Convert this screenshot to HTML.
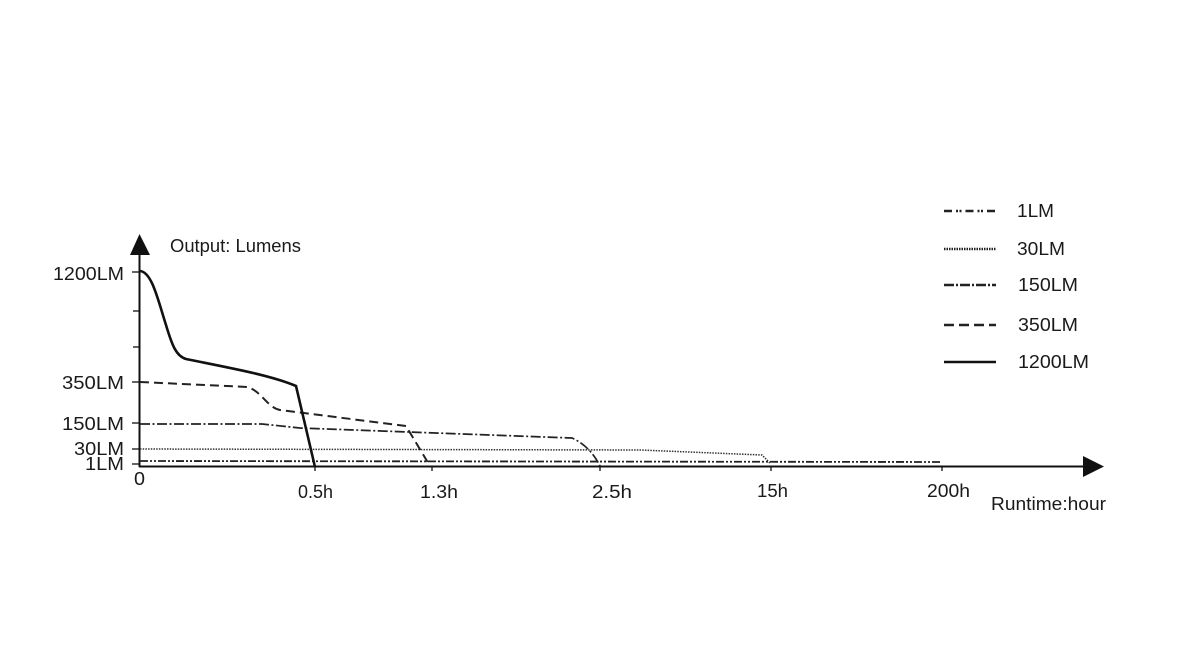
<!DOCTYPE html>
<html><head><meta charset="utf-8"><style>
html,body{margin:0;padding:0;background:#fff;}
svg{display:block;}
text{font-family:"Liberation Sans",Arial,sans-serif;fill:#1a1a1a;font-size:18px;}
</style></head><body>
<svg width="1180" height="660" viewBox="0 0 1180 660" xmlns="http://www.w3.org/2000/svg">
<rect width="1180" height="660" fill="#fff"/>
<!-- axes -->
<line x1="139.5" y1="250" x2="139.5" y2="467" stroke="#111" stroke-width="2"/>
<polygon points="139.5,234 130,255 150,255" fill="#111"/>
<line x1="139" y1="466.5" x2="1088" y2="466.5" stroke="#111" stroke-width="2"/>
<polygon points="1104,466.5 1083,456 1083,477" fill="#111"/>
<!-- y ticks -->
<g stroke="#111" stroke-width="1.3">
<line x1="132" y1="272" x2="140" y2="272"/>
<line x1="133" y1="311" x2="140" y2="311"/>
<line x1="133" y1="347" x2="140" y2="347"/>
<line x1="132" y1="382" x2="140" y2="382"/>
<line x1="132" y1="423" x2="140" y2="423"/>
<line x1="132" y1="449" x2="140" y2="449"/>
<line x1="132" y1="464" x2="140" y2="464"/>
<line x1="315" y1="466" x2="315" y2="471"/>
<line x1="432" y1="466" x2="432" y2="471"/>
<line x1="600" y1="466" x2="600" y2="471"/>
<line x1="771" y1="466" x2="771" y2="471"/>
<line x1="942" y1="466" x2="942" y2="471"/>
</g>
<!-- y labels -->
<text x="53" y="280" textLength="71" lengthAdjust="spacingAndGlyphs">1200LM</text>
<text x="62" y="389" textLength="62" lengthAdjust="spacingAndGlyphs">350LM</text>
<text x="62" y="430" textLength="62" lengthAdjust="spacingAndGlyphs">150LM</text>
<text x="74" y="455" textLength="50" lengthAdjust="spacingAndGlyphs">30LM</text>
<text x="85" y="470" textLength="39" lengthAdjust="spacingAndGlyphs">1LM</text>
<text x="170" y="252" textLength="131" lengthAdjust="spacingAndGlyphs">Output: Lumens</text>
<!-- x labels -->
<text x="134" y="485" textLength="11" lengthAdjust="spacingAndGlyphs">0</text>
<text x="298" y="498" textLength="35" lengthAdjust="spacingAndGlyphs">0.5h</text>
<text x="420" y="498" textLength="38" lengthAdjust="spacingAndGlyphs">1.3h</text>
<text x="592" y="498" textLength="40" lengthAdjust="spacingAndGlyphs">2.5h</text>
<text x="757" y="497" textLength="31" lengthAdjust="spacingAndGlyphs">15h</text>
<text x="927" y="497" textLength="43" lengthAdjust="spacingAndGlyphs">200h</text>
<text x="991" y="510" textLength="115" lengthAdjust="spacingAndGlyphs">Runtime:hour</text>
<!-- series -->
<path d="M140,461 L942,462" fill="none" stroke="#222" stroke-width="1.8" stroke-dasharray="8,2,2,2,2,2"/>
<path d="M140,449 L640,450 L762,455 L770,463" fill="none" stroke="#333" stroke-width="1.5" stroke-dasharray="1.5,1.2"/>
<path d="M140,424 L262,424 L300,428 L572,438 Q590,446 600,466" fill="none" stroke="#222" stroke-width="1.7" stroke-dasharray="10,2.5,2,2.5"/>
<path d="M140,382 L248,387 C262,392 268,408 280,410 L406,426 L430,466" fill="none" stroke="#222" stroke-width="2" stroke-dasharray="9,5"/>
<path d="M140,271 C152,272 158,300 166,325 C172,345 176,356 186,359 C230,368 270,375 296,386 L315,467" fill="none" stroke="#111" stroke-width="2.6"/>
<!-- legend -->
<line x1="944" y1="211" x2="996" y2="211" stroke="#222" stroke-width="2.5" stroke-dasharray="8,4,2,1.5,2,4"/>
<line x1="944" y1="249" x2="996" y2="249" stroke="#222" stroke-width="2.5" stroke-dasharray="1.5,1"/>
<line x1="944" y1="285" x2="996" y2="285" stroke="#222" stroke-width="2.5" stroke-dasharray="10,2,2,2"/>
<line x1="944" y1="325" x2="996" y2="325" stroke="#222" stroke-width="2.5" stroke-dasharray="10,5"/>
<line x1="944" y1="362" x2="996" y2="362" stroke="#111" stroke-width="2.6"/>
<text x="1017" y="217" textLength="37" lengthAdjust="spacingAndGlyphs">1LM</text>
<text x="1017" y="255" textLength="48" lengthAdjust="spacingAndGlyphs">30LM</text>
<text x="1018" y="291" textLength="60" lengthAdjust="spacingAndGlyphs">150LM</text>
<text x="1018" y="331" textLength="60" lengthAdjust="spacingAndGlyphs">350LM</text>
<text x="1018" y="368" textLength="71" lengthAdjust="spacingAndGlyphs">1200LM</text>
</svg>
</body></html>
